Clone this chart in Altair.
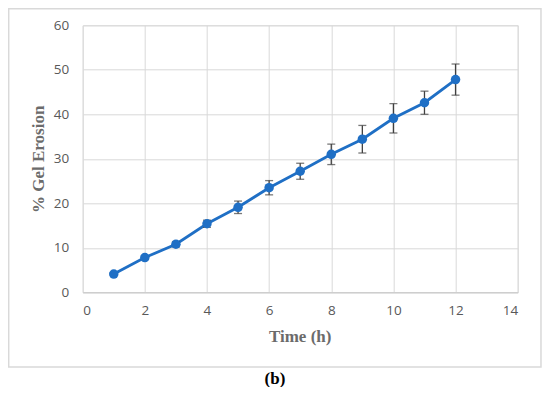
import altair as alt
import pandas as pd

time_h = [1, 2, 3, 4, 5, 6, 7, 8, 9, 10, 11, 12]
erosion = [4.1, 7.8, 10.8, 15.4, 19.1, 23.5, 27.2, 31.0, 34.4, 39.1, 42.6, 47.8]
err = [0.3, 0.4, 0.6, 0.8, 1.4, 1.6, 1.8, 2.3, 3.1, 3.3, 2.6, 3.5]

df = pd.DataFrame({"t": time_h, "e": erosion, "err": err})
df["lo"] = df["e"] - df["err"]
df["hi"] = df["e"] + df["err"]

W, H = 435, 267
BLUE = "#1f6fc5"
GRAY_TXT = "#595959"

x_enc = alt.X("t:Q", scale=alt.Scale(domain=[0, 14], nice=False),
              axis=alt.Axis(values=list(range(0, 15, 2)), title="Time (h)",
                            grid=True, gridColor="#d9d9d9", ticks=False,
                            domain=True, domainColor="#c8c8c8",
                            labelFont="Open Sans", labelFontSize=13.5, labelColor=GRAY_TXT,
                            labelPadding=11,
                            titleFont="Liberation Serif", titleFontSize=17, titleFontWeight="bold",
                            titleColor="#6b6b6b", titleX=217, titleY=44.5,
                            titleAlign="center", titleBaseline="middle"))
y_enc = alt.Y("e:Q", scale=alt.Scale(domain=[0, 60], nice=False),
              axis=alt.Axis(values=list(range(0, 61, 10)), title="% Gel Erosion",
                            grid=True, gridColor="#d9d9d9", ticks=False, domain=False,
                            labelFont="Open Sans", labelFontSize=13.5, labelColor=GRAY_TXT,
                            labelPadding=14,
                            titleFont="Liberation Serif", titleFontSize=17, titleFontWeight="bold",
                            titleColor="#6b6b6b", titleX=-44, titleY=133.5, titleAngle=270,
                            titleAlign="center", titleBaseline="middle"))

base = alt.Chart(df)

frame = alt.Chart(pd.DataFrame({"a": [0]})).mark_rect(
    fill=None, stroke="#d9d9d9", strokeWidth=1.5
).encode(x=alt.value(-74.0), x2=alt.value(458.3), y=alt.value(-16.6), y2=alt.value(341.7))

label_b = alt.Chart(pd.DataFrame({"a": ["(b)"]})).mark_text(
    font="Liberation Serif", fontSize=17, fontWeight="bold", color="#000000",
    align="center", baseline="middle"
).encode(x=alt.value(192.3), y=alt.value(354.0), text="a:N")

line = base.mark_line(color=BLUE, strokeWidth=2.8).encode(x=x_enc, y=y_enc)
rules = base.mark_rule(color="#404040", strokeWidth=1.3).encode(x="t:Q", y="lo:Q", y2="hi:Q")
cap_hi = base.mark_tick(color="#404040", orient="horizontal", size=8, thickness=1.3).encode(x="t:Q", y="hi:Q")
cap_lo = base.mark_tick(color="#404040", orient="horizontal", size=8, thickness=1.3).encode(x="t:Q", y="lo:Q")
points = base.mark_circle(color=BLUE, size=90, opacity=1).encode(x="t:Q", y="e:Q")

chart = alt.layer(line, rules, cap_hi, cap_lo, points, frame, label_b).properties(
    width=W, height=H,
    autosize=alt.AutoSizeParams(type="none"),
    padding={"left": 74.7, "top": 17.3, "right": 24, "bottom": 95},
).configure_view(stroke=None).configure(background="white")

chart.save("out.html", embed_options={"renderer": "svg", "actions": False})
